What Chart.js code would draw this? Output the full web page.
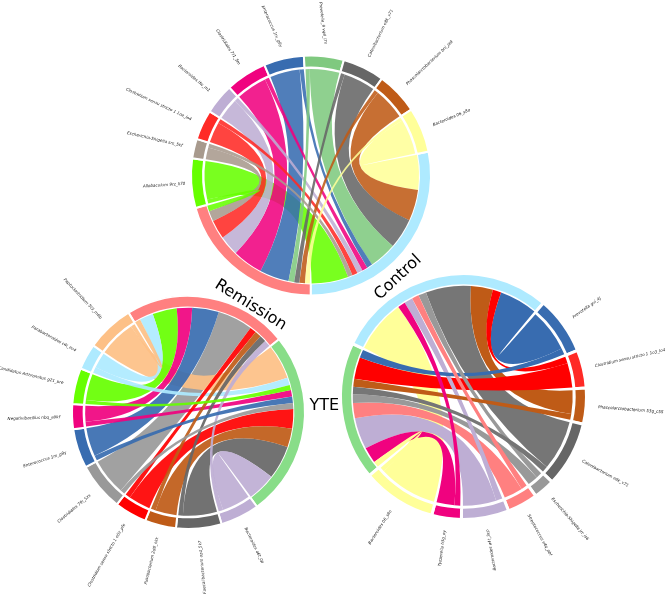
<!DOCTYPE html>
<html>
<head>
<meta charset="utf-8">
<title>Chord diagrams</title>
<script src="https://cdn.jsdelivr.net/npm/chart.js@4"></script>
<style>
  html, body { margin: 0; padding: 0; background: #fff; }
  #wrap { position: relative; width: 668px; height: 594px; overflow: hidden; }
  #wrap canvas { position: absolute; left: 0; top: 0; }
</style>
</head>
<body>
<div id="wrap">
  <canvas id="topChord" width="668" height="594"></canvas>
  <canvas id="leftChord" width="668" height="594"></canvas>
  <canvas id="rightChord" width="668" height="594"></canvas>
</div>
<script>
// colours
var cGreen = '#66ff00', cTan = '#a89a8d', cRed = '#ff2a26', cPurple = '#beaed4', cPink = '#f0027f';
var cBlue = '#386cb0', cLeaf = '#7fc97f', cDark = '#666666', cBrown = '#bf5b17', cYellow = '#ffff99';
var cPeach = '#fdc086', cSky = '#aeeaff', cGrey = '#999999', cSalmon = '#ff8080', cPure = '#ff0000';
var cYte = '#88dd88', cMid = '#767676';

// top diagram: Control / Remission
var topGroups = ['Control', 'Remission'];
var topGenera = ['Allobaculum 9rz_li70', 'Escherichia-Shigella srs_5kf', 'Clostridium sensu stricto 1 1oe_lo4', 'Bacteroides lfw_m1', 'Clostridiales 7f1_5m', 'Enterococcus 1rx_g9y', 'Prevotella_9 vq4_l7n', 'Catenibacterium e8k_v71', 'Phascolarctobacterium bni_ja9', 'Bacteroides 06_s8o'];
var topGroupSizes = [101.5, 74];
var topGenusSizes = [24, 9.5, 14.5, 14.8, 20, 19.4, 19.3, 20.3, 20.4, 21.8];
var topToControl = [20, 2.5, 3, 3, 3, 3, 15, 16.5, 17, 19];
var topToRemission = [3, 5.5, 10, 10.5, 16, 15.5, 3, 2.7, 3, 2.5];
var topColors = [cGreen, cTan, cRed, cPurple, cPink, cBlue, cLeaf, cDark, cBrown, cYellow];

// left diagram: Remission / YTE
var leftGroups = ['Remission', 'YTE'];
var leftGenera = ['Bacteroides a6t_0p', 'Faecalibacterium oz4_5k7', 'Fusobacterium 2d8_kkk', 'Clostridium sensu stricto 1 e0z_pfe', 'Clostridiales 7fn_5zs', 'Enterococcus 1rx_g9y', 'Negativibacillus nbq_a9kf', 'Candidatus Arthromitus g21_bre', 'Parabacteroides c4i_ev4', 'Peptoclostridium 5t3_m8b'];
var leftGroupSizes = [82, 93];
var leftGenusSizes = [19.5, 22.7, 15.6, 16.1, 24.1, 19.7, 12.5, 18, 13, 23.8];
var leftToRemission = [3.6, 3.6, 3.5, 3.6, 19.5, 14.8, 8.5, 13.5, 7.6, 3];
var leftToYte = [16, 19, 10.5, 11, 3.4, 3.6, 3.7, 2.8, 4.3, 19.5];
var leftColors = [cPurple, cDark, cBrown, cPure, cGrey, cBlue, cPink, cGreen, cSky, cPeach];

// right diagram: YTE / Control
var rightGroups = ['YTE', 'Control'];
var rightGenera = ['Prevotella gvi_4j', 'Clostridium sensu stricto 1 1o3_lo4', 'Phascolarctobacterium 53g_c5S', 'Catenibacterium e8k_v71', 'Escherichia-Shigella jrr_is6', 'Streptococcus s4q_pbf', 'Bacteroides a4t_3cp', 'Tyzzerella h3g_oy', 'Bacteroides 06_s8o'];
var rightGroupSizes = [65.5, 105];
var rightGenusSizes = [27.5, 18, 17, 31, 10, 14.5, 22.5, 14, 35];
var rightToYte = [4.1, 11, 4, 3.7, 4.4, 7.8, 16, 8, 3];
var rightToControl = [19.7, 4.4, 11.4, 23.4, 4.1, 3.6, 4.4, 3.9, 27.4];
var rightColors = [cBlue, cRed, cBrown, cDark, cGrey, cSalmon, cPurple, cPink, cYellow];
var rightLinkColors = [cBlue, cPure, cBrown, cMid, cGrey, cSalmon, cPurple, cPink, cYellow];

function chordPlugin(cfg) {
  return {
    id: 'chord',
    afterDatasetsDraw: function (chart) {
      var ctx = chart.ctx;
      var arcs = chart.getDatasetMeta(0).data;
      var cx = arcs[0].x, cy = arcs[0].y;
      var inner = arcs[0].innerRadius;
      var outer = arcs[0].outerRadius;
      var pad = (cfg.border / 2) / outer;
      var n = cfg.genera.length;
      var groupCursor = [arcs[0].endAngle - pad, arcs[1].endAngle - pad];
      var groupUnit = [flowUnit(arcs[0], cfg.flows[0], pad), flowUnit(arcs[1], cfg.flows[1], pad)];
      var links = [];

      for (var i = 0; i < n; i++) {
        var arc = arcs[i + 2];
        var start = arc.startAngle + pad;
        var span = arc.endAngle - pad - start;
        var f0 = cfg.flows[0][i], f1 = cfg.flows[1][i];
        // the smaller link narrows where it leaves the genus
        var share = f1 < f0 ? cfg.thin * f1 / (f0 + f1) : 1 - cfg.thin * f0 / (f0 + f1);
        var split = start + span * share;
        [{ a1: start, a2: split, g: 1 }, { a1: split, a2: start + span, g: 0 }].forEach(function (part) {
          var w = cfg.flows[part.g][i];
          var b2 = groupCursor[part.g];
          var b1 = b2 - w * groupUnit[part.g];
          groupCursor[part.g] = b1;
          links.push({ a1: part.a1, a2: part.a2, b1: b1, b2: b2, value: w, color: (cfg.linkColors || cfg.colors)[i] });
        });
      }

      // big links go down first, the thin ones stay on top
      links.sort(function (p, q) { return q.value - p.value; });
      ctx.save();
      ctx.globalAlpha = cfg.alpha;
      links.forEach(function (l) {
        ribbon(ctx, cx, cy, inner - 1.5, inner, l.a1, l.a2, l.b1, l.b2, l.color, cfg.height);
      });
      ctx.restore();

      // genus labels
      ctx.save();
      ctx.fillStyle = '#222';
      ctx.font = 'italic 4.1px "DejaVu Sans"';
      ctx.textBaseline = 'middle';
      for (var j = 0; j < n; j++) {
        var a = arcs[j + 2];
        var mid = (a.startAngle + a.endAngle) / 2;
        var gap = cfg.labelGap[j] === undefined ? 12 : cfg.labelGap[j];
        var tilt = (cfg.labelTilt[j] || 0) * Math.PI / 180;
        var px = cx + Math.cos(mid) * (outer + gap);
        var py = cy + Math.sin(mid) * (outer + gap);
        var deg = ((mid + tilt) * 180 / Math.PI + 90 + 720) % 360;
        ctx.save();
        ctx.translate(px, py);
        if (deg < 165) {
          ctx.rotate(mid + tilt);
          ctx.textAlign = 'left';
        } else {
          ctx.rotate(mid + tilt + Math.PI);
          ctx.textAlign = 'right';
        }
        ctx.fillText(cfg.genera[j], 0, 0);
        ctx.restore();
      }
      ctx.restore();

      // group labels
      ctx.save();
      ctx.fillStyle = '#000';
      ctx.font = '16px "DejaVu Sans"';
      ctx.textAlign = 'center';
      ctx.textBaseline = 'middle';
      cfg.groupLabels.forEach(function (g) {
        var ga = (g.angle - 90) * Math.PI / 180;
        ctx.save();
        ctx.translate(cx + Math.cos(ga) * g.radius, cy + Math.sin(ga) * g.radius);
        ctx.rotate(g.rotate * Math.PI / 180);
        ctx.fillText(g.text, 0, 0);
        ctx.restore();
      });
      ctx.restore();
    }
  };
}

function flowUnit(arc, flows, pad) {
  var sum = flows.reduce(function (s, v) { return s + v; }, 0);
  return (arc.endAngle - arc.startAngle - 2 * pad) / sum;
}

// one border of a link: quadratic bend whose depth depends on the angular distance
function bendTo(ctx, cx, cy, r, from, to, rFrom, rTo, height) {
  var diff = Math.atan2(Math.sin(to - from), Math.cos(to - from));
  var midAngle = from + diff / 2;
  var apex = r * height * Math.cos(diff / 2);
  var p0x = cx + Math.cos(from) * rFrom, p0y = cy + Math.sin(from) * rFrom;
  var p2x = cx + Math.cos(to) * rTo, p2y = cy + Math.sin(to) * rTo;
  var ax = cx + Math.cos(midAngle) * apex, ay = cy + Math.sin(midAngle) * apex;
  ctx.quadraticCurveTo(2 * ax - (p0x + p2x) / 2, 2 * ay - (p0y + p2y) / 2, p2x, p2y);
}

function ribbon(ctx, cx, cy, rGenus, rGroup, a1, a2, b1, b2, color, height) {
  ctx.beginPath();
  ctx.arc(cx, cy, rGenus, a1, a2, false);
  bendTo(ctx, cx, cy, rGenus, a2, b1, rGenus, rGroup, height);
  ctx.arc(cx, cy, rGroup, b1, b2, false);
  bendTo(ctx, cx, cy, rGenus, b2, a1, rGroup, rGenus, height);
  ctx.closePath();
  ctx.fillStyle = color;
  ctx.fill();
}

function drawChord(id, cfg) {
  var W = 668, H = 594;
  var labels = cfg.groups.concat(cfg.genera);
  var values = cfg.groupSizes.concat(cfg.genusSizes);
  var colors = cfg.groupColors.concat(cfg.colors);
  new Chart(document.getElementById(id).getContext('2d'), {
    type: 'doughnut',
    data: {
      labels: labels,
      datasets: [{
        data: values,
        backgroundColor: colors,
        borderColor: '#ffffff',
        borderWidth: cfg.border
      }]
    },
    options: {
      responsive: false,
      animation: false,
      rotation: cfg.rotation,
      radius: cfg.r + cfg.border / 2,
      cutout: cfg.cutout,
      layout: {
        padding: {
          left: cfg.cx - cfg.r,
          top: cfg.cy - cfg.r,
          right: W - cfg.cx - cfg.r,
          bottom: H - cfg.cy - cfg.r
        }
      },
      plugins: { legend: { display: false }, tooltip: { enabled: false } }
    },
    plugins: [chordPlugin(cfg)]
  });
}

drawChord('topChord', {
  cx: 311, cy: 175.5, r: 119, rotation: 78.5, cutout: '90%', border: 2, alpha: 0.88, height: 0.5, thin: 0.75,
  groups: topGroups, genera: topGenera, groupSizes: topGroupSizes, genusSizes: topGenusSizes,
  groupColors: [cSky, cSalmon], colors: topColors,
  flows: [topToControl, topToRemission],
  labelGap: { 0: 6 }, labelTilt: { 5: -11, 6: -13 },
  groupLabels: [
    { text: 'Control', angle: 139.5, radius: 134, rotate: -43 },
    { text: 'Remission', angle: 205, radius: 143, rotate: 32 }
  ]
});

drawChord('leftChord', {
  cx: 188.5, cy: 412.5, r: 115.5, rotation: 329, cutout: '90%', border: 2, alpha: 0.92, height: 0.5, thin: 0.75,
  groups: leftGroups, genera: leftGenera, groupSizes: leftGroupSizes, genusSizes: leftGenusSizes,
  groupColors: [cSalmon, cYte], colors: leftColors,
  flows: [leftToRemission, leftToYte],
  labelGap: {}, labelTilt: {},
  groupLabels: [
    { text: 'YTE', angle: 87, radius: 136, rotate: 0 }
  ]
});

drawChord('rightChord', {
  cx: 463.5, cy: 396.5, r: 121.5, rotation: 230, cutout: '90%', border: 3, alpha: 1, height: 0.5, thin: 0.75,
  groups: rightGroups, genera: rightGenera, groupSizes: rightGroupSizes, genusSizes: rightGenusSizes,
  groupColors: [cYte, cSky], colors: rightColors, linkColors: rightLinkColors,
  flows: [rightToYte, rightToControl],
  labelGap: {}, labelTilt: {},
  groupLabels: []
});
</script>
</body>
</html>
